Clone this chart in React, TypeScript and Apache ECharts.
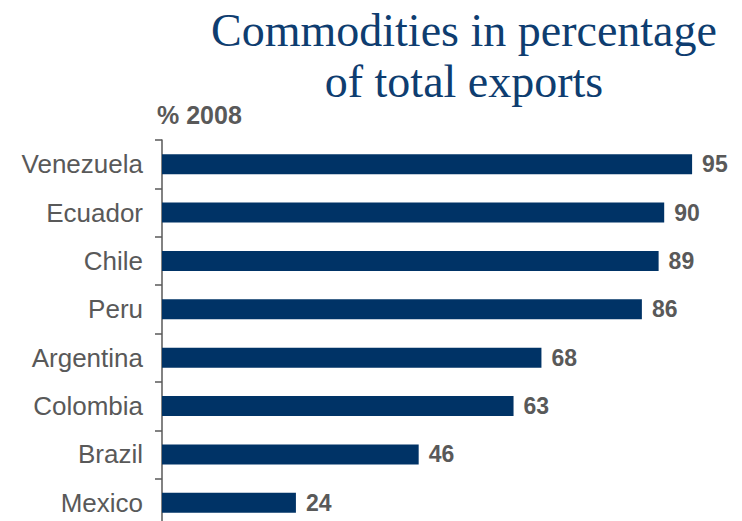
import React, { useEffect, useRef } from "react";
import * as echarts from "echarts";

const countries = ["Venezuela", "Ecuador", "Chile", "Peru", "Argentina", "Colombia", "Brazil", "Mexico"];
const shares = [95, 90, 89, 86, 68, 63, 46, 24];
const titleText = "Commodities in percentage\nof total exports";
const unitText = "% 2008";

export default function App() {
  const ref = useRef<HTMLDivElement>(null);
  useEffect(() => {
    if (!ref.current) return;
    const chart = echarts.init(ref.current, undefined, { renderer: "svg" });
    chart.setOption({
      animation: false,
      title: [
        {
          text: titleText,
          left: 459,
          top: 0,
          textAlign: "center",
          textStyle: {
            fontFamily: "Liberation Serif",
            fontSize: 46,
            lineHeight: 51,
            fontWeight: "normal",
            color: "#0E3D70",
          },
        },
        {
          text: unitText,
          left: 152,
          top: 97,
          textStyle: {
            fontFamily: "Liberation Sans",
            fontSize: 25,
            fontWeight: "bold",
            color: "#595959",
          },
        },
      ],
      grid: { left: 162, top: 140, width: 558, height: 387 },
      xAxis: {
        type: "value",
        min: 0,
        max: 100,
        show: false,
      },
      yAxis: {
        type: "category",
        data: countries,
        inverse: true,
        axisLine: { show: true, lineStyle: { color: "#595959", width: 1.5 } },
        axisTick: { show: true, length: 7, inside: false, lineStyle: { color: "#595959", width: 1.5 } },
        axisLabel: {
          margin: 19,
          fontFamily: "Liberation Sans",
          fontSize: 26,
          color: "#595959",
        },
        splitLine: { show: false },
      },
      series: [
        {
          type: "bar",
          data: shares,
          barWidth: 20,
          itemStyle: { color: "#003366" },
          label: {
            show: true,
            position: "right",
            distance: 10,
            fontFamily: "Liberation Sans",
            fontSize: 23,
            fontWeight: "bold",
            color: "#595959",
          },
        },
      ],
    });
    return () => chart.dispose();
  }, []);
  return (
    <div
      ref={ref}
      style={{ position: "fixed", left: 0, top: 0, width: 742, height: 540, background: "#fff" }}
    />
  );
}
